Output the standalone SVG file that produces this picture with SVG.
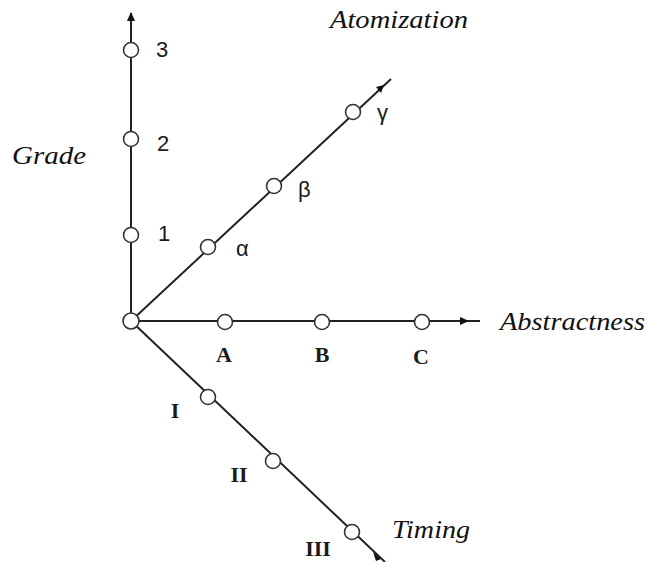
<svg xmlns="http://www.w3.org/2000/svg" width="648" height="562" viewBox="0 0 648 562">
<style>
.ax{stroke:#222;stroke-width:2;fill:none}
.nd{fill:#fff;stroke:#333;stroke-width:1.6}
.lb{font-family:"Liberation Serif","Times New Roman",serif;font-size:22px;font-weight:bold;fill:#1a1a1a}
.sn{font-family:"Liberation Sans",Arial,sans-serif;font-size:22px;fill:#1a1a1a}
.it{font-family:"Liberation Serif","Times New Roman",serif;font-size:26px;font-style:italic;fill:#111}
</style>
<rect width="648" height="562" fill="#fff"/>
<g id="connectors">
<line class="ax" x1="131" y1="321" x2="131" y2="13"/>
<path d="M127,21 L131,12 L135,21 z" fill="#111"/>
<line class="ax" x1="131" y1="321" x2="480" y2="321"/>
<path d="M460,317 L469,321 L460,325 z" fill="#111"/>
<line class="ax" x1="131" y1="321" x2="391" y2="79"/>
<path d="M376,87 L384,85 L381,93 z" fill="#111"/>
<line class="ax" x1="131" y1="321" x2="385" y2="562"/>
<path d="M373,552 L381,559 L376,561 z" fill="#111"/>
</g>
<g id="origin"><circle class="nd" cx="131" cy="321" r="8"/></g>
<g id="g1"><circle class="nd" cx="131" cy="235" r="7.5"/><text class="sn" x="158" y="241">1</text></g>
<g id="g2"><circle class="nd" cx="131" cy="139" r="7.5"/><text class="sn" x="157" y="151">2</text></g>
<g id="g3"><circle class="nd" cx="131" cy="50" r="7.5"/><text class="sn" x="156" y="57">3</text></g>
<g id="grade"><text class="it" x="12" y="164" textLength="74" lengthAdjust="spacingAndGlyphs">Grade</text></g>
<g id="nA"><circle class="nd" cx="225" cy="322" r="7.5"/><text class="lb" x="224" y="362" text-anchor="middle">A</text></g>
<g id="nB"><circle class="nd" cx="322" cy="322" r="7.5"/><text class="lb" x="322" y="362" text-anchor="middle">B</text></g>
<g id="nC"><circle class="nd" cx="422" cy="322" r="7.5"/><text class="lb" x="421" y="364" text-anchor="middle">C</text></g>
<g id="abstractness"><text class="it" x="500" y="330" textLength="145" lengthAdjust="spacingAndGlyphs">Abstractness</text></g>
<g id="na"><circle class="nd" cx="208" cy="247" r="7.5"/><text class="sn" x="236" y="256">α</text></g>
<g id="nb"><circle class="nd" cx="274" cy="186" r="7.5"/><text class="sn" x="298" y="197">β</text></g>
<g id="ng"><circle class="nd" cx="353" cy="112" r="7.5"/><text class="sn" x="377" y="120">γ</text></g>
<g id="atomization"><text class="it" x="330" y="28" textLength="138" lengthAdjust="spacingAndGlyphs">Atomization</text></g>
<g id="n1"><circle class="nd" cx="208" cy="397" r="7.5"/><text class="lb" x="175" y="418" text-anchor="middle">I</text></g>
<g id="n2"><circle class="nd" cx="273" cy="461" r="7.5"/><text class="lb" x="239" y="482" text-anchor="middle">II</text></g>
<g id="n3"><circle class="nd" cx="352" cy="532" r="7.5"/><text class="lb" x="318" y="556" text-anchor="middle">III</text></g>
<g id="timing"><text class="it" x="392" y="538" textLength="78" lengthAdjust="spacingAndGlyphs">Timing</text></g>
</svg>
